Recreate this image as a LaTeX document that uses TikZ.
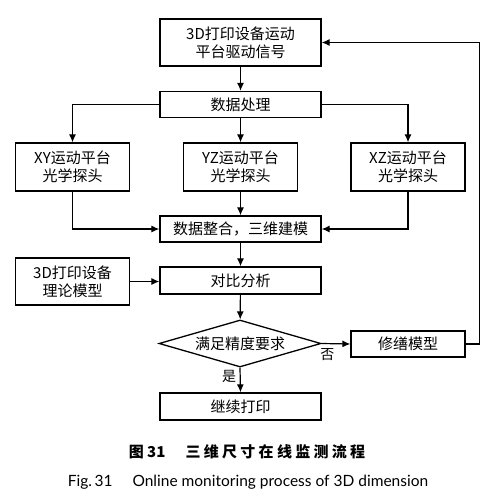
\documentclass[tikz,border=0pt]{standalone}
\usepackage{fontspec}
\setmainfont{Noto Sans CJK SC}
\newfontfamily\capfont{Lato}
\newfontfamily\capcjk[LetterSpace=22]{Noto Sans CJK SC}
\usetikzlibrary{arrows.meta,shapes.geometric}

\tikzset{
  box/.style={draw,line width=1.3pt,minimum width=161pt,minimum height=26pt,
    inner sep=0pt,align=center,font=\fontsize{15}{18}\selectfont},
  probe/.style={box,minimum width=114pt,minimum height=48pt},
  link/.style={->,line width=1.2pt}
}

\begin{document}
\begin{tikzpicture}[x=1pt,y=-1pt,>={Latex[length=8pt,width=7pt]}]
  \useasboundingbox (0,0) rectangle (498,500);
  % main column
  \node[box,minimum height=47pt] (drive) at (240.5,42.5) {3D打印设备运动\\平台驱动信号};
  \node[box] (proc) at (240.5,104.5) {数据处理};
  \node[probe] (xy) at (72.5,167) {XY运动平台\\光学探头};
  \node[probe] (yz) at (240.5,167) {YZ运动平台\\光学探头};
  \node[probe] (xz) at (408,167) {XZ运动平台\\光学探头};
  \node[box] (merge) at (240.5,229) {数据整合，三维建模};
  \node[probe,minimum height=47pt] (model) at (72.5,281.5) {3D打印设备\\理论模型};
  \node[box,minimum height=27pt] (cmp) at (240.5,280.5) {对比分析};
  \node[draw,diamond,aspect=3.45,line width=1.3pt,inner sep=0pt,minimum width=162pt,
    minimum height=47pt,font=\fontsize{15}{18}\selectfont] (check) at (240,343.5) {满足精度要求};
  \node[probe,minimum height=26pt] (repair) at (408,344) {修缮模型};
  \node[box,minimum height=27pt] (cont) at (240.5,406.5) {继续打印};

  % connectors
  \draw[link] (drive) -- (proc);
  \draw[link] (proc.west) -| (xy.north);
  \draw[link] (proc) -- (yz);
  \draw[link] (proc.east) -| (xz.north);
  \draw[link] (xy.south) |- (merge.west);
  \draw[link] (yz) -- (merge);
  \draw[link] (xz.south) |- (merge.east);
  \draw[link] (merge) -- (cmp);
  \draw[link] (model.east) -- (model.east -| cmp.west);
  \draw[link] (cmp) -- (check);
  \draw[link] (check.east) -- node[pos=0.2,below=1pt,font=\fontsize{14}{14}\selectfont] {否} (repair.west);
  \draw[link] (check.south) -- node[pos=0.35,left=0pt,font=\fontsize{14}{14}\selectfont] {是} (cont.north);
  \draw[link] (repair.east) -- ++(14,0) |- (drive.east);

  % caption
  \node[font=\fontsize{15}{15}\selectfont\bfseries] (cap) at (247,452)
    {图 31\hspace{20pt}{\capcjk 三维尺寸在线监测流程}};
  \node[font=\capfont\fontsize{15.5}{15}\selectfont] (capen) at (248,482)
    {Fig.\,31\hspace{20pt}Online monitoring process of 3D dimension};
\end{tikzpicture}
\end{document}
